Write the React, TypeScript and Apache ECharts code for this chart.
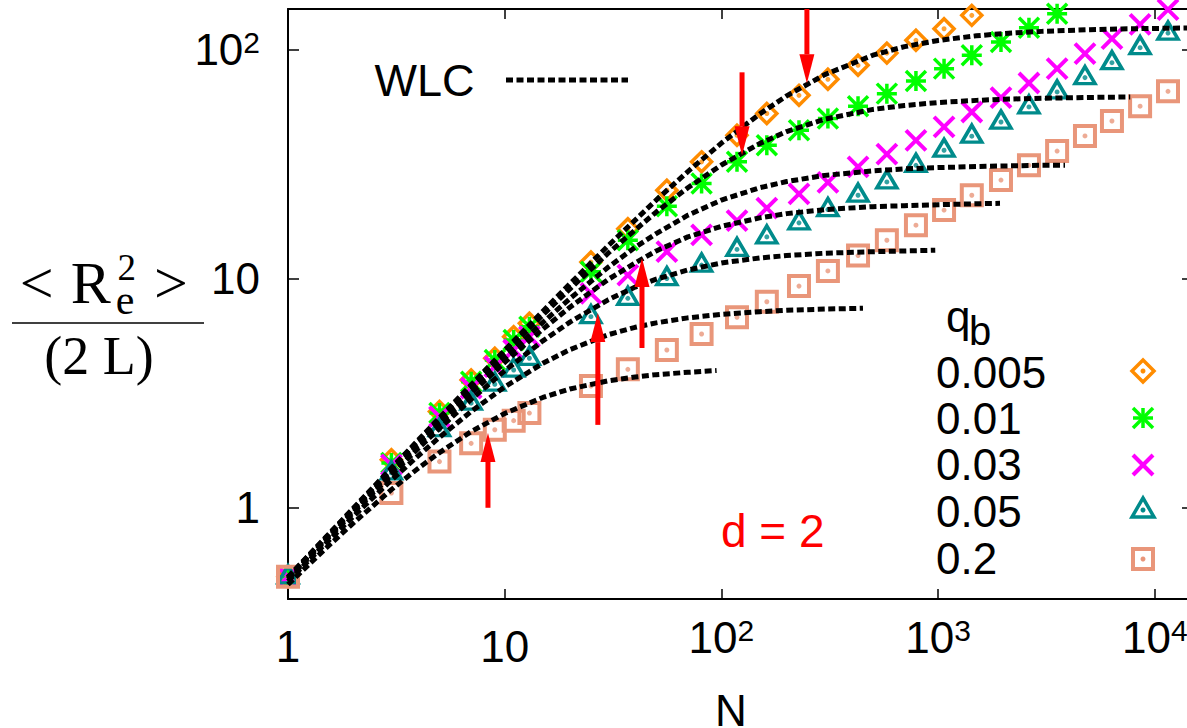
import React, { useEffect, useRef } from 'react';
import * as echarts from 'echarts';

// ---------- data ----------
const N_VALUES = [1, 3, 5, 7, 9, 11, 13, 25, 37, 56, 81, 118, 162, 228, 310, 427, 580, 790, 1065, 1430, 1950, 2625, 3540, 4760, 6340, 8550, 11500];
const QB_LABELS = ['0.005', '0.01', '0.03', '0.05', '0.2'];

const R_Q0005 = [0.5, 1.62, 2.63, 3.61, 4.49, 5.58, 6.38, 11.8, 16.5, 24.3, 32.3, 42.2, 52.5, 63.0, 74.0, 85.2, 96.3, 109.5, 123, 140.7];
const R_Q001 = [0.5, 1.57, 2.59, 3.55, 4.41, 5.4, 6.17, 10.7, 14.7, 20.7, 26.0, 32.3, 38.2, 44.4, 49.9, 56.5, 64.1, 72.8, 82.4, 94.2, 107.6, 124.3, 143];
const R_Q003 = [0.5, 1.54, 2.5, 3.33, 4.13, 4.88, 5.58, 8.62, 10.36, 13.1, 15.5, 17.9, 20.3, 23.4, 26.3, 30.7, 34.9, 40.1, 45.9, 53.3, 61.6, 71.3, 82.4, 95.8, 111.3, 128.5, 149];
const R_Q005 = [0.5, 1.42, 2.19, 2.86, 3.46, 3.99, 4.49, 6.82, 8.2, 10.0, 11.45, 13.4, 15.2, 17.5, 20.0, 23.1, 26.4, 31.2, 36.3, 41.8, 48.2, 56.1, 65.2, 75.3, 87.5, 101.7, 117.8];
const R_Q02 = [0.5, 1.16, 1.59, 1.91, 2.19, 2.4, 2.59, 3.4, 4.02, 4.88, 5.73, 6.78, 7.92, 9.27, 10.8, 12.6, 14.7, 17.1, 19.9, 23.1, 26.9, 31.2, 36.0, 41.9, 48.7, 56.5, 65.6];

// WLC dashed curves
const WLC1_N = [1, 1.5, 2, 3, 4, 5, 7, 10, 15, 20, 30, 40, 50, 70, 100, 150, 200, 300, 500, 700, 1000, 1500, 2000, 3000, 5000, 7000, 10000, 15000];
const WLC1_V = [0.499, 0.747, 0.995, 1.49, 1.98, 2.47, 3.44, 4.87, 7.21, 9.49, 13.9, 18.0, 22.0, 29.3, 39.0, 52.2, 62.7, 77.6, 94.3, 102.8, 109.4, 114.6, 117.2, 119.8, 121.9, 122.8, 123.4, 124.0];
const WLC2_N = [1, 1.5, 2, 3, 4, 5, 7, 10, 15, 20, 30, 40, 50, 70, 100, 150, 200, 300, 500, 700, 1000, 1500, 2000, 3000, 5000, 7700];
const WLC2_V = [0.497, 0.744, 0.989, 1.48, 1.96, 2.43, 3.37, 4.74, 6.94, 9.01, 12.9, 16.3, 19.5, 24.9, 31.3, 38.8, 43.8, 49.6, 54.7, 56.9, 58.6, 59.9, 60.6, 61.2, 61.7, 62.0];
const WLC3_N = [1, 1.5, 2, 3, 4, 5, 7, 10, 15, 20, 30, 40, 50, 70, 100, 150, 200, 300, 500, 700, 1000, 1500, 2000, 3000, 3850];
const WLC3_V = [0.495, 0.738, 0.979, 1.45, 1.92, 2.37, 3.25, 4.51, 6.44, 8.18, 11.2, 13.7, 15.7, 18.9, 22.0, 24.9, 26.5, 28.2, 29.5, 30.1, 30.5, 30.8, 31.0, 31.2, 31.2];
const WLC4_N = [1, 1.5, 2, 3, 4, 5, 7, 10, 15, 20, 30, 40, 50, 70, 100, 150, 200, 300, 500, 700, 1000, 1500, 1930];
const WLC4_V = [0.492, 0.733, 0.97, 1.43, 1.88, 2.32, 3.15, 4.31, 6.02, 7.5, 9.91, 11.7, 13.2, 15.2, 16.9, 18.4, 19.2, 20.0, 20.6, 20.8, 21.0, 21.2, 21.3];
const WLC5_N = [1, 1.5, 2, 3, 4, 5, 7, 10, 15, 20, 30, 40, 50, 70, 100, 150, 200, 300, 500, 700, 970];
const WLC5_V = [0.488, 0.723, 0.953, 1.39, 1.82, 2.22, 2.97, 3.96, 5.35, 6.46, 8.08, 9.18, 9.94, 10.9, 11.7, 12.3, 12.6, 12.9, 13.1, 13.2, 13.3];
const WLC6_N = [1, 1.5, 2, 3, 4, 5, 7, 10, 15, 20, 30, 40, 50, 70, 100, 150, 200, 300, 450];
const WLC6_V = [0.478, 0.702, 0.916, 1.32, 1.69, 2.03, 2.63, 3.37, 4.27, 4.9, 5.69, 6.13, 6.41, 6.74, 6.98, 7.17, 7.27, 7.36, 7.42];
const WLC7_N = [1, 1.5, 2, 3, 4, 5, 7, 10, 15, 20, 30, 40, 50, 70, 95];
const WLC7_V = [0.463, 0.668, 0.857, 1.2, 1.49, 1.74, 2.15, 2.58, 3.03, 3.3, 3.58, 3.72, 3.81, 3.9, 3.97];

// red arrows: N position, start value, tip value
const ARROW_N = [248, 124.5, 43, 26.9, 8.37];
const ARROW_FROM = [150, 79.4, 4.98, 2.3, 1.0];
const ARROW_TO = [71.1, 34.5, 12.3, 7.07, 2.12];

// ---------- styling ----------
const SANS = '"Liberation Sans", Arial, Helvetica, sans-serif';
const SERIF = '"Liberation Serif", "Times New Roman", serif';
const C_ORANGE = '#ff8c00';
const C_GREEN = '#00ff00';
const C_MAGENTA = '#ff00ff';
const C_TEAL = '#008b8b';
const C_SALMON = '#e9967a';
const C_RED = '#ff0000';

const ASTERISK = 'path://M10,0L10,20M0,10L20,10M0,0L20,20M20,0L0,20';
const CROSS = 'path://M0,0L20,20M20,0L0,20';

const labelRich: any = {
  p: { fontSize: 44, lineHeight: 61, fontFamily: SANS, color: '#000' },
  b: { fontSize: 44, lineHeight: 44, verticalAlign: 'bottom', fontFamily: SANS, color: '#000' },
  s: { fontSize: 30, lineHeight: 30, verticalAlign: 'top', padding: [0, 0, 27.5, 0], fontFamily: SANS, color: '#000' },
};

const fmt = (v: number) => {
  const lg = Math.log10(v);
  const e = Math.round(lg);
  if (Math.abs(lg - e) > 1e-6) return '';
  if (e === 0) return '{p|1}';
  if (e === 1) return '{p|10}';
  return '{b|10}{s|' + e + '}';
};

function buildOption() {
  const defs = [
    { name: QB_LABELS[0], v: R_Q0005, symbol: 'diamond', size: 20, offset: [0, 0], color: C_ORANGE, bw: 3.5, dot: true },
    { name: QB_LABELS[1], v: R_Q001, symbol: ASTERISK, size: 20, offset: [0, 0], color: C_GREEN, bw: 3.5, dot: false },
    { name: QB_LABELS[2], v: R_Q003, symbol: CROSS, size: 20, offset: [0, 0], color: C_MAGENTA, bw: 4, dot: false },
    { name: QB_LABELS[3], v: R_Q005, symbol: 'triangle', size: [20, 17], offset: [0, -2.5], color: C_TEAL, bw: 3.5, dot: true },
    { name: QB_LABELS[4], v: R_Q02, symbol: 'rect', size: 20, offset: [0, 0], color: C_SALMON, bw: 4, dot: true },
  ];

  const series: any[] = [];
  defs.forEach((d) => {
    const data = d.v.map((y, i) => [N_VALUES[i], y]);
    series.push({
      type: 'scatter',
      name: d.name,
      data,
      symbol: d.symbol,
      symbolSize: d.size,
      symbolOffset: d.offset,
      itemStyle: { color: 'rgba(0,0,0,0)', borderColor: d.color, borderWidth: d.bw, opacity: 1 },
      z: 2,
      silent: true,
    });
    if (d.dot) {
      series.push({
        type: 'scatter',
        name: d.name + ' dot',
        data,
        symbol: 'circle',
        symbolSize: 5,
        itemStyle: { color: d.color },
        z: 2,
        silent: true,
      });
    }
  });

  const wlc = [
    [WLC1_N, WLC1_V], [WLC2_N, WLC2_V], [WLC3_N, WLC3_V], [WLC4_N, WLC4_V],
    [WLC5_N, WLC5_V], [WLC6_N, WLC6_V], [WLC7_N, WLC7_V],
  ];
  wlc.forEach(([ns, vs], k) => {
    series.push({
      type: 'line',
      name: 'WLC ' + (k + 1),
      data: (ns as number[]).map((n, i) => [n, (vs as number[])[i]]),
      showSymbol: false,
      symbol: 'none',
      smooth: false,
      lineStyle: { color: '#000', width: 5, type: [7, 3.5], join: 'round' },
      z: 3,
      silent: true,
    });
  });

  series.push({
    type: 'custom',
    name: 'arrows',
    data: ARROW_N.map((n, i) => [n, ARROW_FROM[i], ARROW_TO[i]]),
    encode: { x: 0, y: [1, 2] },
    z: 5,
    silent: true,
    renderItem: (params: any, api: any) => {
      const a = api.coord([api.value(0), api.value(1)]);
      const b = api.coord([api.value(0), api.value(2)]);
      const dir = b[1] > a[1] ? 1 : -1;
      const headLen = 29;
      const headW = 7.5;
      const shaftW = 2.5;
      const baseY = b[1] - dir * headLen;
      return {
        type: 'group',
        children: [
          {
            type: 'rect',
            shape: { x: a[0] - shaftW, y: Math.min(a[1], baseY), width: 2 * shaftW, height: Math.abs(baseY - a[1]) },
            style: { fill: C_RED },
          },
          {
            type: 'polygon',
            shape: { points: [[b[0], b[1]], [b[0] - headW, baseY], [b[0] + headW, baseY]] },
            style: { fill: C_RED },
          },
        ],
      };
    },
  });

  // legend (manual, like the gnuplot key)
  const LX = 1143;
  const LY = [371, 418, 465, 510, 559];
  const TY = [372, 418.8, 464.8, 511.5, 558];
  const graphics: any[] = [];
  QB_LABELS.forEach((t, i) => {
    graphics.push({
      type: 'text', x: 936, y: TY[i],
      style: { text: t, fontSize: 44, lineHeight: 44, fontFamily: SANS, fill: '#000', align: 'left', verticalAlign: 'middle' },
    });
  });
  const sw = { fill: 'none', lineJoin: 'miter' };
  graphics.push({ type: 'polygon', shape: { points: [[LX, LY[0] - 11], [LX + 11, LY[0]], [LX, LY[0] + 11], [LX - 11, LY[0]]] }, style: { ...sw, stroke: C_ORANGE, lineWidth: 3.5 } });
  graphics.push({ type: 'circle', shape: { cx: LX, cy: LY[0], r: 2.5 }, style: { fill: C_ORANGE } });
  [[0, -10, 0, 10], [-10, 0, 10, 0], [-10, -10, 10, 10], [10, -10, -10, 10]].forEach((s) => {
    graphics.push({ type: 'line', shape: { x1: LX + s[0], y1: LY[1] + s[1], x2: LX + s[2], y2: LY[1] + s[3] }, style: { stroke: C_GREEN, lineWidth: 3.5 } });
  });
  [[-10, -10, 10, 10], [10, -10, -10, 10]].forEach((s) => {
    graphics.push({ type: 'line', shape: { x1: LX + s[0], y1: LY[2] + s[1], x2: LX + s[2], y2: LY[2] + s[3] }, style: { stroke: C_MAGENTA, lineWidth: 4 } });
  });
  graphics.push({ type: 'polygon', shape: { points: [[LX, LY[3] - 12], [LX + 11, LY[3] + 7], [LX - 11, LY[3] + 7]] }, style: { ...sw, stroke: C_TEAL, lineWidth: 3.5 } });
  graphics.push({ type: 'circle', shape: { cx: LX, cy: LY[3], r: 2.5 }, style: { fill: C_TEAL } });
  graphics.push({ type: 'rect', shape: { x: LX - 10, y: LY[4] - 10, width: 20, height: 20 }, style: { ...sw, stroke: C_SALMON, lineWidth: 4 } });
  graphics.push({ type: 'circle', shape: { cx: LX, cy: LY[4], r: 2.5 }, style: { fill: C_SALMON } });

  // legend title q_b
  graphics.push({ type: 'text', x: 946, y: 316.8, style: { text: 'q', fontSize: 44, lineHeight: 40, fontFamily: SANS, fill: '#000', align: 'left', verticalAlign: 'middle' } });
  graphics.push({ type: 'text', x: 969, y: 331, style: { text: 'b', fontSize: 40, lineHeight: 34, fontFamily: SANS, fill: '#000', align: 'left', verticalAlign: 'middle' } });

  // WLC key
  graphics.push({ type: 'text', x: 374.5, y: 80.4, style: { text: 'WLC', fontSize: 45, fontFamily: SANS, fill: '#000', align: 'left', verticalAlign: 'middle' } });
  graphics.push({ type: 'line', shape: { x1: 506, y1: 80, x2: 628, y2: 80 }, style: { stroke: '#000', lineWidth: 5, lineDash: [7, 3.5] } });

  // d = 2
  graphics.push({ type: 'text', x: 721, y: 531, style: { text: 'd = 2', fontSize: 46, fontFamily: SANS, fill: C_RED, align: 'left', verticalAlign: 'middle' } });

  // y-axis title: <R_e^2> / (2 L)
  graphics.push({ type: 'text', x: 36.7, y: 282.7, style: { text: '<', fontSize: 60, fontFamily: SERIF, fill: '#000', align: 'center', verticalAlign: 'middle' } });
  graphics.push({ type: 'text', x: 90.8, y: 282.5, style: { text: 'R', fontSize: 60, fontFamily: SERIF, fill: '#000', align: 'center', verticalAlign: 'middle' } });
  graphics.push({ type: 'text', x: 126.7, y: 267.5, style: { text: '2', fontSize: 37, lineHeight: 28, fontFamily: SERIF, fill: '#000', align: 'center', verticalAlign: 'middle' } });
  graphics.push({ type: 'text', x: 125, y: 300.4, style: { text: 'e', fontSize: 42, lineHeight: 26, fontFamily: SERIF, fill: '#000', align: 'center', verticalAlign: 'middle' } });
  graphics.push({ type: 'text', x: 171, y: 282.7, style: { text: '>', fontSize: 60, fontFamily: SERIF, fill: '#000', align: 'center', verticalAlign: 'middle' } });
  graphics.push({ type: 'line', shape: { x1: 12, y1: 323, x2: 204, y2: 323 }, style: { stroke: '#000', lineWidth: 1.5 } });
  graphics.push({ type: 'text', x: 99, y: 355.8, style: { text: '(2 L)', fontSize: 54, fontFamily: SERIF, fill: '#000', align: 'center', verticalAlign: 'middle' } });

  const axisLine = { show: true, lineStyle: { color: '#000', width: 2 } };

  return {
    animation: false,
    backgroundColor: '#ffffff',
    textStyle: { fontFamily: SANS },
    grid: { left: 288, right: 1, top: 9, bottom: 129, containLabel: false, outerBoundsMode: 'none' },
    xAxis: [
      {
        type: 'log', logBase: 10, min: 1, max: 15000, position: 'bottom',
        axisLine,
        axisTick: { show: true, inside: true, length: 10, lineStyle: { color: '#000', width: 1.5 } },
        minorTick: { show: false },
        splitLine: { show: false },
        axisLabel: { show: true, margin: 16.5, formatter: fmt, rich: labelRich, color: '#000' },
        name: 'N', nameLocation: 'middle', nameGap: 89,
        nameTextStyle: { fontSize: 44, lineHeight: 44, fontFamily: SANS, color: '#000', padding: [0, 19, 0, 0] },
      },
      {
        type: 'log', logBase: 10, min: 1, max: 15000, position: 'top',
        axisLine,
        axisTick: { show: true, inside: true, length: 10, lineStyle: { color: '#000', width: 1.5 } },
        minorTick: { show: false },
        splitLine: { show: false },
        axisLabel: { show: false },
      },
    ],
    yAxis: [
      {
        type: 'log', logBase: 10, min: 0.4, max: 150, position: 'left',
        axisLine,
        axisTick: { show: true, inside: true, length: 11, lineStyle: { color: '#000', width: 1.5 } },
        minorTick: { show: false },
        splitLine: { show: false },
        axisLabel: { show: true, margin: 28, formatter: fmt, rich: labelRich, color: '#000' },
      },
      {
        type: 'log', logBase: 10, min: 0.4, max: 150, position: 'right',
        axisLine: { show: true, lineStyle: { color: '#000', width: 2 } },
        axisTick: { show: true, inside: true, length: 11, lineStyle: { color: '#000', width: 1.5 } },
        minorTick: { show: false },
        splitLine: { show: false },
        axisLabel: { show: false },
      },
    ],
    series,
    graphic: graphics,
  };
}

export default function App() {
  const ref = useRef<HTMLDivElement>(null);
  useEffect(() => {
    if (!ref.current) return;
    const chart = echarts.init(ref.current, null, { renderer: 'svg' });
    chart.setOption(buildOption() as any);
    return () => chart.dispose();
  }, []);
  return (
    <div style={{ position: 'absolute', left: 0, top: 0, width: 1187, height: 728, overflow: 'hidden', background: '#fff' }}>
      <div ref={ref} style={{ width: 1194, height: 728 }} />
    </div>
  );
}
